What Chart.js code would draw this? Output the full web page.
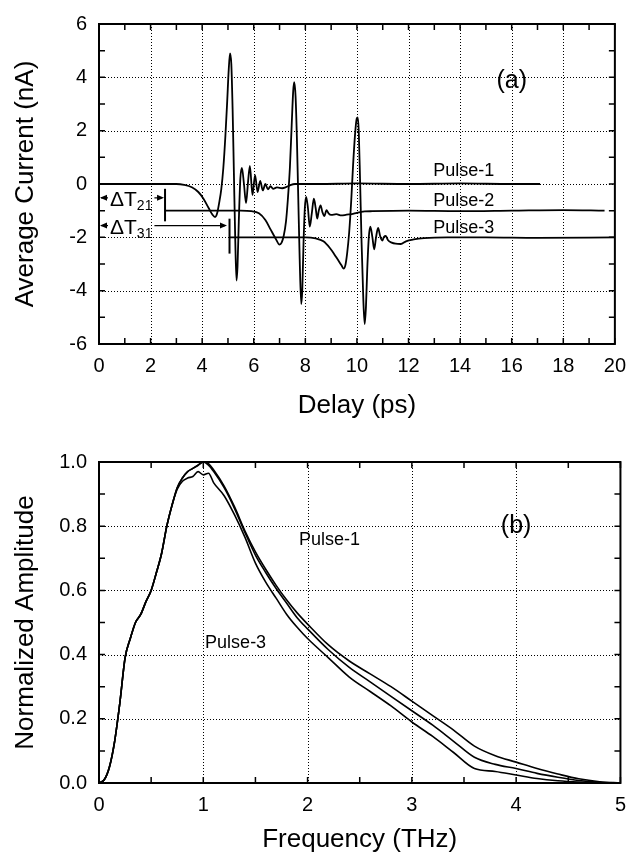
<!DOCTYPE html>
<html>
<head>
<meta charset="utf-8">
<script src="https://cdn.jsdelivr.net/npm/chart.js@4.4.0/dist/chart.umd.min.js"></script>
<style>
  html, body { margin: 0; padding: 0; background: #fff; }
  #wrap { position: relative; width: 636px; height: 858px; }
  canvas { position: absolute; left: 0; }
  #timeChart { top: 0; }
  #freqChart { top: 429px; }
</style>
</head>
<body>
<div id="wrap">
  <canvas id="timeChart" width="636" height="429"></canvas>
  <canvas id="freqChart" width="636" height="429"></canvas>
</div>
<script>
// ---- (a) time domain: delay (ps) / average current (nA)
const delay1 = [0, 3.0, 3.3, 3.6, 3.85, 4.05, 4.25, 4.4, 4.5, 4.58, 4.66, 4.74, 4.82, 4.9, 4.97, 5.03, 5.08, 5.13, 5.18, 5.23, 5.28, 5.33, 5.37, 5.42, 5.48, 5.54, 5.62, 5.70, 5.78, 5.85, 5.95, 6.05, 6.15, 6.25, 6.35, 6.45, 6.55, 6.65, 6.75, 6.9, 7.1, 7.25, 7.4, 7.6, 8.5, 10, 12, 14, 16, 17.1];
const current1 = [0, 0, -0.03, -0.12, -0.3, -0.55, -0.9, -1.15, -1.24, -1.1, -0.7, -0.2, 0.6, 1.8, 3.1, 4.3, 4.9, 4.5, 2.8, 0.4, -2.0, -3.62, -3.1, -1.4, 0.2, 0.6, 0.0, -0.72, 0.1, 0.68, -0.42, 0.33, -0.3, 0.12, -0.24, 0.0, -0.2, -0.08, -0.18, -0.13, -0.16, -0.12, -0.05, 0, 0, 0.02, 0, 0.02, 0, 0];

const delay2 = [2.56, 5.5, 5.9, 6.2, 6.45, 6.65, 6.85, 7.0, 7.08, 7.16, 7.25, 7.32, 7.4, 7.47, 7.53, 7.57, 7.62, 7.67, 7.72, 7.78, 7.84, 7.88, 7.93, 7.98, 8.03, 8.1, 8.17, 8.25, 8.33, 8.40, 8.46, 8.52, 8.59, 8.66, 8.74, 8.82, 8.9, 9.0, 9.2, 9.4, 9.6, 9.8, 10.0, 10.3, 10.6, 12, 14, 16, 18, 19.6];
const current2 = [-1.0, -1.0, -1.02, -1.1, -1.35, -1.7, -2.05, -2.27, -2.2, -1.95, -1.4, -0.6, 0.6, 2.2, 3.5, 3.82, 3.3, 1.8, -0.3, -2.8, -4.5, -4.0, -2.2, -0.9, -0.48, -0.9, -1.6, -1.1, -0.55, -0.9, -1.3, -1.0, -0.8, -1.05, -1.2, -0.98, -1.1, -1.16, -1.13, -1.18, -1.15, -1.13, -1.08, -1.03, -1.02, -1.0, -1.02, -1.0, -0.98, -1.0];

const delay3 = [5.06, 8.0, 8.4, 8.7, 8.95, 9.2, 9.4, 9.48, 9.55, 9.62, 9.7, 9.78, 9.85, 9.93, 9.99, 10.03, 10.07, 10.12, 10.18, 10.25, 10.30, 10.35, 10.40, 10.46, 10.52, 10.6, 10.67, 10.74, 10.82, 10.9, 10.98, 11.05, 11.12, 11.2, 11.35, 11.5, 11.7, 11.9, 12.2, 12.6, 13.5, 15, 17, 20];
const current3 = [-2.0, -2.0, -2.04, -2.15, -2.4, -2.75, -3.05, -3.17, -3.05, -2.6, -1.8, -0.6, 0.7, 1.9, 2.45, 2.5, 2.0, 0.2, -2.2, -4.4, -5.25, -4.6, -3.2, -2.0, -1.6, -2.0, -2.45, -2.0, -1.65, -1.95, -2.12, -1.98, -1.95, -2.1, -2.2, -2.24, -2.25, -2.15, -2.08, -2.03, -2.0, -2.0, -2.02, -2.0];

const delayTicks = [0, 2, 4, 6, 8, 10, 12, 14, 16, 18, 20];
const currentTicks = [-6, -4, -2, 0, 2, 4, 6];

// ---- (b) spectra: frequency (THz) / normalized amplitude
const freqTHz = [0, 0.05, 0.1, 0.15, 0.2, 0.25, 0.3, 0.35, 0.4, 0.45, 0.5, 0.55, 0.6, 0.65, 0.7, 0.75, 0.8, 0.85, 0.9, 0.95, 1.0, 1.05, 1.1, 1.2, 1.3, 1.4, 1.5, 1.6, 1.7, 1.8, 1.9, 2.0, 2.2, 2.4, 2.6, 2.8, 3.0, 3.2, 3.4, 3.6, 3.8, 4.0, 4.2, 4.4, 4.6, 4.8, 5.0];
const amp1 = [0, 0.01, 0.05, 0.13, 0.25, 0.39, 0.45, 0.50, 0.525, 0.565, 0.60, 0.655, 0.715, 0.80, 0.865, 0.92, 0.95, 0.97, 0.98, 0.99, 1.0, 0.995, 0.975, 0.925, 0.86, 0.785, 0.72, 0.665, 0.615, 0.57, 0.53, 0.495, 0.43, 0.38, 0.34, 0.30, 0.255, 0.21, 0.165, 0.115, 0.085, 0.065, 0.045, 0.028, 0.013, 0.004, 0];
const amp2 = [0, 0.01, 0.05, 0.13, 0.25, 0.39, 0.45, 0.50, 0.525, 0.565, 0.60, 0.655, 0.715, 0.80, 0.865, 0.92, 0.95, 0.97, 0.98, 0.99, 1.0, 0.99, 0.97, 0.92, 0.855, 0.78, 0.71, 0.655, 0.605, 0.56, 0.515, 0.48, 0.415, 0.36, 0.315, 0.27, 0.225, 0.18, 0.13, 0.08, 0.058, 0.045, 0.03, 0.018, 0.008, 0.002, 0];
const amp3 = [0, 0.01, 0.05, 0.13, 0.25, 0.39, 0.45, 0.50, 0.525, 0.565, 0.60, 0.655, 0.715, 0.80, 0.865, 0.915, 0.94, 0.95, 0.955, 0.97, 0.96, 0.965, 0.935, 0.895, 0.835, 0.765, 0.685, 0.625, 0.575, 0.525, 0.485, 0.45, 0.39, 0.33, 0.285, 0.24, 0.19, 0.145, 0.095, 0.045, 0.036, 0.025, 0.014, 0.007, 0.003, 0.001, 0];

const freqTicks = [0, 1, 2, 3, 4, 5];
const ampTicks = [0, 0.2, 0.4, 0.6, 0.8, 1.0];

Chart.defaults.font.family = '"Liberation Sans", Arial, Helvetica, sans-serif';
Chart.defaults.color = '#000';

const toPoints = (xs, ys) => xs.map((v, i) => ({ x: v, y: ys[i] }));

function lineSet(label, xs, ys, w) {
  return {
    label, data: toPoints(xs, ys),
    borderColor: '#000', borderWidth: w, pointRadius: 0,
    cubicInterpolationMode: 'monotone', fill: false
  };
}

function axis(min, max, ticks, fmt, title, isX, size, titlePad) {
  return {
    type: 'linear', min, max,
    afterBuildTicks: s => { s.ticks = ticks.map(v => ({ value: v })); },
    afterFit: s => { if (isX) s.height = size; else s.width = size; },
    grid: { display: false, drawTicks: false },
    border: { display: false },
    ticks: { font: { size: 20 }, padding: isX ? 10 : 12, maxRotation: 0, autoSkip: false, callback: fmt },
    title: { display: true, text: title, font: { size: 26 }, padding: titlePad }
  };
}

// grid, inward ticks, frame and text, drawn on the library's scales
function framePlugin(o) {
  return {
    id: 'frame',
    beforeDatasetsDraw(chart) {
      const { ctx, chartArea: a, scales: { x, y } } = chart;
      ctx.save();
      ctx.strokeStyle = '#000';
      ctx.lineWidth = 1;
      ctx.setLineDash([1, 2]);
      ctx.beginPath();
      o.xGrid.forEach(v => {
        const p = Math.round(x.getPixelForValue(v)) + 0.5;
        ctx.moveTo(p, a.top); ctx.lineTo(p, a.bottom);
      });
      o.yGrid.forEach(v => {
        const p = Math.round(y.getPixelForValue(v)) + 0.5;
        ctx.moveTo(a.left, p); ctx.lineTo(a.right, p);
      });
      ctx.stroke();
      ctx.restore();
    },
    afterDatasetsDraw(chart) {
      const { ctx, chartArea: a, scales: { x, y } } = chart;
      ctx.save();
      ctx.strokeStyle = '#000';
      ctx.lineWidth = 1.5;
      ctx.beginPath();
      for (let v = x.min; v <= x.max + 1e-9; v += o.xMinor) {
        const p = x.getPixelForValue(v);
        ctx.moveTo(p, a.bottom); ctx.lineTo(p, a.bottom - 6);
        ctx.moveTo(p, a.top); ctx.lineTo(p, a.top + 6);
      }
      for (let v = y.min; v <= y.max + 1e-9; v += o.yMinor) {
        const p = y.getPixelForValue(v);
        ctx.moveTo(a.left, p); ctx.lineTo(a.left + 6, p);
        ctx.moveTo(a.right, p); ctx.lineTo(a.right - 6, p);
      }
      ctx.stroke();
      ctx.lineWidth = 2;
      ctx.strokeRect(a.left, a.top, a.right - a.left, a.bottom - a.top);

      ctx.fillStyle = '#000';
      ctx.textAlign = 'center';
      ctx.textBaseline = 'middle';
      o.labels.forEach(l => {
        ctx.font = l.size + 'px "Liberation Sans", Arial, sans-serif';
        ctx.fillText(l.text, x.getPixelForValue(l.x), y.getPixelForValue(l.y));
      });
      if (o.extra) o.extra(ctx, x, y);
      ctx.restore();
    }
  };
}

function arrowHead(ctx, px, py, dir) {
  ctx.beginPath();
  ctx.moveTo(px, py);
  ctx.lineTo(px - dir * 7, py - 3);
  ctx.lineTo(px - dir * 7, py + 3);
  ctx.closePath();
  ctx.fill();
}

function deltaArrow(ctx, x, y, yVal, endVal, sub) {
  const yp = y.getPixelForValue(yVal);
  const x0 = x.getPixelForValue(0);
  ctx.lineWidth = 1.2;
  ctx.beginPath(); ctx.moveTo(x0 + 2, yp); ctx.lineTo(x0 + 9, yp); ctx.stroke();
  arrowHead(ctx, x0 + 1, yp, -1);
  ctx.textAlign = 'left';
  ctx.textBaseline = 'alphabetic';
  ctx.font = '21px "Liberation Sans", Arial, sans-serif';
  const tx = x0 + 11;
  ctx.fillText('\u0394T', tx, yp + 8);
  const w = ctx.measureText('\u0394T').width;
  ctx.font = '14px "Liberation Sans", Arial, sans-serif';
  ctx.fillText(sub, tx + w, yp + 12);
  const xs = tx + w + ctx.measureText(sub).width + 2;
  const xe = x.getPixelForValue(endVal);
  ctx.beginPath(); ctx.moveTo(xs, yp); ctx.lineTo(xe - 3, yp); ctx.stroke();
  arrowHead(ctx, xe - 1, yp, 1);
}

function marker(ctx, x, y, xv, y0, y1) {
  ctx.lineWidth = 2;
  ctx.beginPath();
  ctx.moveTo(x.getPixelForValue(xv), y.getPixelForValue(y0));
  ctx.lineTo(x.getPixelForValue(xv), y.getPixelForValue(y1));
  ctx.stroke();
}

const baseOpts = {
  responsive: false, animation: false, devicePixelRatio: 1, events: [],
  plugins: { legend: { display: false }, tooltip: { enabled: false } }
};

new Chart(document.getElementById('timeChart'), {
  type: 'line',
  data: {
    datasets: [
      lineSet('Pulse-1', delay1, current1, 1.8),
      lineSet('Pulse-2', delay2, current2, 1.8),
      lineSet('Pulse-3', delay3, current3, 1.8)
    ]
  },
  options: {
    ...baseOpts,
    layout: { padding: { top: 22, right: 14, left: 0, bottom: 0 } },
    scales: {
      x: axis(0, 20, delayTicks, v => String(v), 'Delay (ps)', true, 85, { top: 0, bottom: 8 }),
      y: axis(-6, 6, currentTicks, v => String(v), 'Average Current (nA)', false, 99, { top: 10, bottom: 0 })
    }
  },
  plugins: [framePlugin({
    xGrid: [2, 4, 6, 8, 10, 12, 14, 16, 18],
    yGrid: [-4, -2, 0, 2, 4],
    xMinor: 1, yMinor: 1,
    labels: [
      { text: 'Pulse-1', x: 14.14, y: 0.5, size: 18 },
      { text: 'Pulse-2', x: 14.14, y: -0.62, size: 18 },
      { text: 'Pulse-3', x: 14.14, y: -1.65, size: 18 },
      { text: '(a)', x: 16.0, y: 3.85, size: 25 }
    ],
    extra(ctx, x, y) {
      marker(ctx, x, y, 2.56, -0.18, -1.4);
      marker(ctx, x, y, 5.06, -1.3, -2.61);
      deltaArrow(ctx, x, y, -0.52, 2.56, '21');
      deltaArrow(ctx, x, y, -1.56, 5.0, '31');
    }
  })]
});

new Chart(document.getElementById('freqChart'), {
  type: 'line',
  data: {
    datasets: [
      lineSet('Pulse-1', freqTHz, amp1, 1.6),
      lineSet('Pulse-2', freqTHz, amp2, 1.6),
      lineSet('Pulse-3', freqTHz, amp3, 1.6)
    ]
  },
  options: {
    ...baseOpts,
    layout: { padding: { top: 33, right: 14, left: 0, bottom: 0 } },
    scales: {
      x: axis(0, 5, freqTicks, v => String(v), 'Frequency (THz)', true, 75, { top: 0, bottom: 3 }),
      y: axis(0, 1, ampTicks, v => v.toFixed(1), 'Normalized Amplitude', false, 99, { top: 10, bottom: 0 })
    }
  },
  plugins: [framePlugin({
    xGrid: [1, 2, 3, 4],
    yGrid: [0.2, 0.4, 0.6, 0.8],
    xMinor: 0.5, yMinor: 0.1,
    labels: [
      { text: 'Pulse-1', x: 2.21, y: 0.756, size: 18 },
      { text: 'Pulse-3', x: 1.31, y: 0.437, size: 18 },
      { text: '(b)', x: 4.0, y: 0.80, size: 25 }
    ]
  })]
});
</script>
</body>
</html>
